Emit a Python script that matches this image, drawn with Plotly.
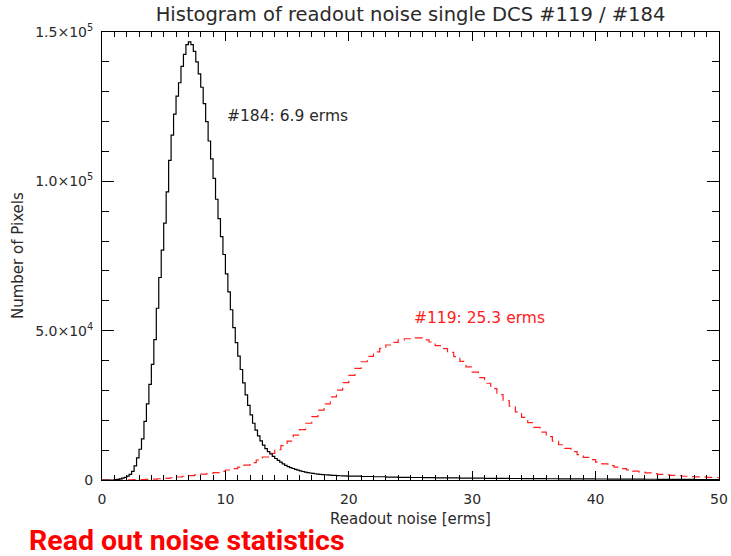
import plotly.graph_objects as go

# ---- data ----
# #184 histogram, 0.2 erms bins from 0 to 20 (left edges 0, 0.2, ...)
black_fine_start = 0.0
black_fine_width = 0.2
black_counts_fine = [
    0, 0, 0, 0, 0,
    100, 200, 350, 600, 900,
    1300, 1900, 2900, 4700, 7400,
    10300, 13800, 19600, 25500, 32000,
    38700, 47000, 57500, 67800, 77000,
    86000, 96500, 107000, 115500, 122500,
    128500, 133000, 138500, 142500, 145800,
    146700, 145800, 143500, 140000, 136000,
    131500, 126000, 120000, 113500, 107500,
    101000, 94000, 87500, 81500, 75500,
    69000, 63000, 57000, 51000, 46000,
    41500, 37000, 32500, 28500, 25000,
    21800, 19000, 16700, 14800, 13100,
    11700, 10500, 9500, 8700, 7900,
    7200, 6600, 6000, 5400, 4900,
    4500, 4150, 3850, 3550, 3300,
    3050, 2850, 2650, 2500, 2350,
    2200, 2100, 2000, 1900, 1820,
    1750, 1690, 1630, 1570, 1520,
    1470, 1430, 1390, 1350, 1320,
]
# #184 tail, 1 erms bins from 20 to 50
black_tail_start = 20.0
black_tail_width = 1.0
black_counts_tail = [
    1280, 1180, 1080, 990, 900, 830, 770, 720, 680, 640,
    600, 570, 540, 510, 480, 450, 420, 400, 370, 350,
    330, 310, 290, 270, 250, 230, 210, 190, 170, 150,
]
# #119 histogram, 0.5 erms bins from 0 to 50
red_start = 0.0
red_width = 0.5
red_counts = [
    0, 0, 0, 0, 50, 100, 150, 220, 300, 420,
    550, 750, 1000, 1250, 1450, 1700, 1950, 2200, 2500, 2900,
    3350, 3800, 4300, 5000, 5800, 6700, 7700, 8900, 10200, 11500,
    13000, 15000, 16900, 19000, 21200, 23400, 25500, 27800, 30100, 32600,
    35000, 37400, 39600, 41400, 42900, 44100, 45200, 46100, 46900, 47300,
    47600, 47600, 46900, 46200, 45000, 44000, 42700, 41300, 39700, 37900,
    36100, 34300, 32400, 30600, 28600, 26600, 24700, 22800, 21000, 19200,
    17600, 16000, 14500, 13000, 11800, 10600, 9500, 8500, 7600, 6800,
    6000, 5400, 4800, 4300, 3800, 3400, 3000, 2700, 2400, 2150,
    1900, 1700, 1550, 1400, 1250, 1150, 1050, 950, 850, 750,
]

x_tick_vals = [0, 10, 20, 30, 40, 50]
y_tick_vals = [0, 50000, 100000, 150000]
y_tick_text = ["0", "5.0\u00d710<sup>4</sup>", "1.0\u00d710<sup>5</sup>", "1.5\u00d710<sup>5</sup>"]

title_text = "Histogram of readout noise single DCS #119 / #184"
x_title = "Readout noise [erms]"
y_title = "Number of Pixels"
label_184 = "#184: 6.9 erms"
label_119 = "#119: 25.3 erms"
footer_text = "Read out noise statistics"


def steps(start, width, counts):
    xs = [start + i * width for i in range(len(counts))]
    xs.append(start + len(counts) * width)
    ys = list(counts) + [counts[-1]]
    return xs, ys


bx1, by1 = steps(black_fine_start, black_fine_width, black_counts_fine)
bx2, by2 = steps(black_tail_start, black_tail_width, black_counts_tail)
bx = bx1[:-1] + bx2
by = by1[:-1] + by2
rx, ry = steps(red_start, red_width, red_counts)

FONT = "DejaVu Sans"
TXT = "#2a2a2a"
RED = "#ff2020"

W, H = 731, 556
L, R, T, B = 102, 731 - 719, 32, 556 - 480
PW, PH = W - L - R, H - T - B

fig = go.Figure()
fig.add_trace(go.Scatter(x=rx, y=ry, mode="lines", line=dict(color=RED, width=1.2, dash="8px,5px", shape="hv"),
                         showlegend=False, hoverinfo="skip"))
fig.add_trace(go.Scatter(x=bx, y=by, mode="lines", line=dict(color="#000000", width=1.2, shape="hv"),
                         showlegend=False, hoverinfo="skip"))

fig.update_layout(
    width=W, height=H,
    margin=dict(l=L, r=R, t=T, b=B, autoexpand=False),
    paper_bgcolor="white", plot_bgcolor="white",
    font=dict(family=FONT, size=14, color=TXT),
    title=dict(text=title_text, x=(L + PW / 2) / W, xanchor="center",
               yref="container", y=1 - 14 / H, yanchor="middle",
               font=dict(family=FONT, size=19.5, color=TXT)),
    xaxis=dict(range=[0, 50], showgrid=False, zeroline=False, showline=True, linecolor="black", linewidth=1,
               mirror="allticks", ticks="inside", ticklen=9, tickwidth=1, tickcolor="black",
               tickvals=x_tick_vals, ticklabelstandoff=6, automargin=False,
               minor=dict(dtick=1, ticks="inside", ticklen=5, tickwidth=1, tickcolor="black", showgrid=False),
               tickfont=dict(family=FONT, size=14, color=TXT)),
    yaxis=dict(range=[0, 150000], showgrid=False, zeroline=False, showline=True, linecolor="black", linewidth=1,
               mirror="allticks", ticks="inside", ticklen=12, tickwidth=1, tickcolor="black",
               tickvals=y_tick_vals, ticktext=y_tick_text, ticklabelstandoff=5, automargin=False,
               minor=dict(dtick=10000, ticks="inside", ticklen=7, tickwidth=1, tickcolor="black", showgrid=False),
               tickfont=dict(family=FONT, size=14, color=TXT)),
)

fig.add_annotation(text=x_title, xref="paper", yref="paper", x=0.5, y=-(519 - 480) / PH,
                   xanchor="center", yanchor="middle", showarrow=False,
                   font=dict(family=FONT, size=15, color=TXT))
fig.add_annotation(text=y_title, xref="paper", yref="paper", x=-(102 - 18) / PW, y=0.5,
                   xanchor="center", yanchor="middle", textangle=-90, showarrow=False,
                   font=dict(family=FONT, size=15, color=TXT))
fig.add_annotation(text=label_184, x=10.0, y=121900, xref="x", yref="y", xanchor="left", yanchor="middle",
                   showarrow=False, font=dict(family=FONT, size=15.5, color=TXT))
fig.add_annotation(text=label_119, x=25.1, y=54200, xref="x", yref="y", xanchor="left", yanchor="middle",
                   showarrow=False, font=dict(family=FONT, size=15.5, color=RED))
fig.add_annotation(text="<b>" + footer_text + "</b>", xref="paper", yref="paper",
                   x=(27 - 102) / PW, y=-(540 - 480) / PH, xanchor="left", yanchor="middle",
                   showarrow=False, font=dict(family="Liberation Sans Narrow, Roboto", size=28.5, color="#ff0000"))

fig.write_html("out.html", config={"displayModeBar": False},
               post_script="document.body.style.margin='0px';document.body.style.overflow='hidden';")
